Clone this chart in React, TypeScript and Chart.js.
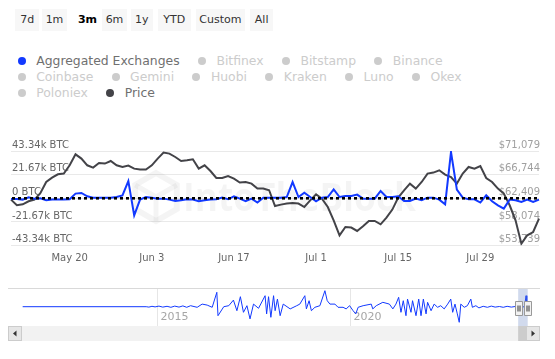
import React, { useEffect, useRef } from 'react';
import { Chart, registerables } from 'chart.js';

Chart.register(...registerables);

const BLUE = '#1239ff';
const PRICE_COLOR = '#434348';
const FONT = '"DejaVu Sans", sans-serif';

// ---- main chart data (daily, starting 2024-05-10) ----
const START_DATE = Date.UTC(2024, 4, 10);
const DAY_MS = 86400000;

const PRICE = [
  62170, 61130, 61310, 61860, 62170, 63330, 65400, 66200, 66810, 66940,
  68460, 70470, 69690, 68460, 68040, 68880, 68770, 69250, 68460, 68150,
  68400, 67850, 67670, 67670, 68460, 69690, 70790, 70600, 69980, 69250,
  69370, 69560, 67850, 68460, 67410, 66130, 66130, 66500, 66020, 65290,
  65400, 65100, 64190, 64190, 63880, 61000, 61250, 61440, 61550, 61440,
  60810, 62040, 63140, 62350, 60810, 58380, 55630, 57150, 57040, 56420,
  57280, 58250, 58250, 57640, 58870, 60340, 62540, 63880, 65100, 64190,
  65400, 66940, 67120, 67540, 66750, 66310, 65100, 66940, 68150, 67850,
  68330, 66130, 65400, 64190, 63270, 61130, 58380, 54100, 55630, 56230,
  58690,
];

const NETFLOW = [
  -600, -600, -1200, 900, -300, 0, -1800, -1200, -1200, -1200,
  -900, 4300, 4900, 1800, 600, 600, 600, 600, 1200, 2700,
  15800, -15600, -1200, 1200, 600, -300, -300, -1200, -2500, -1800,
  -900, -1200, -2700, -1800, -1200, -900, 600, -900, 1800, -300,
  -2700, -300, -3900, 600, 600, 600, 600, 1200, 14900, 1200,
  5200, 1200, -2700, 600, 1200, 8200, 1200, 2100, 2100, 3400,
  -300, -300, -300, 6700, 1200, 1200, 1800, -2500, -2500, -300,
  -1800, 600, 600, -1200, -5500, 42400, 8000, 600, -900, -900,
  -3900, 2700, -2700, -6400, -9400, -1200, -1800, -3400, -1200, -3400,
  -1200,
];

const DATES = PRICE.map((_, i) =>
  new Date(START_DATE + i * DAY_MS).toLocaleDateString('en-US', {
    month: 'short',
    day: 'numeric',
    timeZone: 'UTC',
  })
);

const X_TICK_LABELS = ['May 20', 'Jun 3', 'Jun 17', 'Jul 1', 'Jul 15', 'Jul 29'];
const BTC_TICKS = [-43340, -21670, 0, 21670, 43340];
const USD_TICKS = [53739, 58074, 62409, 66744, 71079];

// ---- navigator data: [decimal year, net flow (k BTC)] ----
const NAV_POINTS: [number, number][] = [
  [2011.52, 0], [2014.72, 0], [2014.79, -2], [2014.87, 2], [2014.95, -1],
  [2015.05, 3], [2015.15, -2], [2015.26, 2], [2015.36, -3], [2015.46, 3],
  [2015.57, -2], [2015.67, 4], [2015.77, -3], [2015.87, 5], [2016.04, -3],
  [2016.17, 13], [2016.3, 8], [2016.43, -3], [2016.55, 72], [2016.58, -45],
  [2016.73, 0], [2016.86, 5], [2016.98, 33], [2017.07, -20], [2017.16, 50],
  [2017.24, -28], [2017.33, 5], [2017.41, -61], [2017.5, 13], [2017.63, -8],
  [2017.8, 55], [2017.84, -36], [2017.89, 50], [2017.95, -53], [2018.02, 55],
  [2018.06, -20], [2018.12, 38], [2018.19, -45], [2018.27, 13], [2018.45, -11],
  [2018.62, 5], [2018.7, 13], [2018.83, 55], [2018.87, -11], [2018.94, 30],
  [2019.0, -20], [2019.09, -3], [2019.22, 5], [2019.35, 80], [2019.41, 30],
  [2019.48, 13], [2019.61, 13], [2019.69, -3], [2019.82, -3], [2019.9, -11],
  [2019.99, 5], [2020.08, -20], [2020.15, -36], [2020.21, -3], [2020.34, 5],
  [2020.55, 13], [2020.59, -11], [2020.68, 5], [2020.85, 22], [2021.02, 13],
  [2021.11, -11], [2021.19, 13], [2021.26, 47], [2021.32, -28], [2021.38, 30],
  [2021.45, -45], [2021.49, 38], [2021.58, -28], [2021.62, 30], [2021.71, -45],
  [2021.78, 38], [2021.84, -45], [2021.9, 38], [2021.97, -36], [2022.01, 22],
  [2022.1, -20], [2022.18, 13], [2022.27, -3], [2022.35, 5], [2022.44, -11],
  [2022.53, 13], [2022.61, 38], [2022.66, -28], [2022.72, 13], [2022.78, -36],
  [2022.83, -78], [2022.87, 13], [2022.96, -3], [2023.04, 5], [2023.13, 38],
  [2023.17, -3], [2023.26, 5], [2023.34, -6], [2023.45, 2], [2023.56, -3],
  [2023.66, 3], [2023.76, -2], [2023.87, 1], [2023.97, -3], [2024.07, 2],
  [2024.18, -2], [2024.28, 1], [2024.36, -3], [2024.45, 2], [2024.52, -2],
  [2024.56, 55], [2024.58, -3], [2024.6, 0],
];
const NAV_YEAR_TICKS = [2015, 2020];
const NAV_X_RANGE = [2011.166, 2024.922];
const NAV_Y_RANGE = [-96.5, 93.5];
const SELECTED_RANGE = [2024.356, 2024.603];

const RANGE_BUTTONS = ['7d', '1m', '3m', '6m', '1y', 'YTD', 'Custom', 'All'];
const SELECTED_BUTTON = '3m';
// layout of range buttons: [left, width]
const BUTTON_BOXES: [number, number][] = [
  [15, 24.3], [42.3, 24.4], [74, 27], [102.3, 24.4], [131, 21.7], [157.7, 33], [195.7, 49.3], [250, 23.3],
];

const LEGEND_ITEMS = [
  { name: 'Aggregated Exchanges', color: BLUE, visible: true },
  { name: 'Bitfinex', color: '#cccccc', visible: false },
  { name: 'Bitstamp', color: '#cccccc', visible: false },
  { name: 'Binance', color: '#cccccc', visible: false },
  { name: 'Coinbase', color: '#cccccc', visible: false },
  { name: 'Gemini', color: '#cccccc', visible: false },
  { name: 'Huobi', color: '#cccccc', visible: false },
  { name: 'Kraken', color: '#cccccc', visible: false },
  { name: 'Luno', color: '#cccccc', visible: false },
  { name: 'Okex', color: '#cccccc', visible: false },
  { name: 'Poloniex', color: '#cccccc', visible: false },
  { name: 'Price', color: PRICE_COLOR, visible: true },
];

const fmtBTC = (v: number) => (v === 0 ? '0 BTC' : `${(v / 1000).toFixed(2)}k BTC`);
const fmtUSD = (v: number) => '$' + Math.round(v).toLocaleString('en-US');

const watermarkPlugin = {
  id: 'watermark',
  beforeDatasetsDraw(chart: any) {
    const { ctx, chartArea: a } = chart;
    ctx.save();
    ctx.strokeStyle = 'rgba(0,0,0,0.045)';
    ctx.fillStyle = 'rgba(0,0,0,0.045)';
    ctx.lineWidth = 6;
    const cx = a.left + 145;
    const cy = a.top + 46;
    const r = 24;
    ctx.beginPath();
    for (let k = 0; k < 6; k++) {
      const ang = (-90 + 60 * k) * (Math.PI / 180);
      const px = cx + r * Math.cos(ang);
      const py = cy + r * Math.sin(ang);
      if (k === 0) ctx.moveTo(px, py);
      else ctx.lineTo(px, py);
    }
    ctx.closePath();
    ctx.stroke();
    ctx.lineWidth = 5;
    ctx.beginPath();
    ctx.moveTo(cx, cy);
    ctx.lineTo(cx, cy + r);
    ctx.moveTo(cx, cy);
    ctx.lineTo(cx - r * 0.87, cy - r * 0.5);
    ctx.moveTo(cx, cy);
    ctx.lineTo(cx + r * 0.87, cy - r * 0.5);
    ctx.stroke();
    ctx.font = 'bold 40px "Open Sans", sans-serif';
    ctx.textBaseline = 'alphabetic';
    ctx.textAlign = 'left';
    ctx.fillText('IntoTheBlock', a.left + 172, a.top + 60, 233);
    ctx.restore();
  },
};

const zeroLinePlugin = {
  id: 'zeroLine',
  afterDatasetsDraw(chart: any) {
    const { ctx, chartArea: a, scales } = chart;
    const y = scales.yL.getPixelForValue(0);
    ctx.save();
    ctx.strokeStyle = '#000000';
    ctx.lineWidth = 2.6;
    ctx.setLineDash([3, 3]);
    ctx.beginPath();
    ctx.moveTo(a.left + 1, y);
    ctx.lineTo(a.right - 1, y);
    ctx.stroke();
    ctx.restore();
  },
};

const navPlugin = {
  id: 'navDecor',
  beforeDatasetsDraw(chart: any) {
    const { ctx, chartArea: a, scales } = chart;
    const x = scales.x;
    ctx.save();
    ctx.strokeStyle = '#e6e6e6';
    ctx.lineWidth = 1;
    ctx.font = `11px ${FONT}`;
    ctx.fillStyle = '#a6a6a6';
    ctx.textAlign = 'left';
    ctx.textBaseline = 'middle';
    NAV_YEAR_TICKS.forEach((yr) => {
      const px = Math.round(x.getPixelForValue(yr)) + 0.5;
      ctx.beginPath();
      ctx.moveTo(px, a.top);
      ctx.lineTo(px, a.bottom);
      ctx.stroke();
      ctx.fillText(String(yr), px + 3, a.bottom - 9);
    });
    ctx.strokeStyle = '#d9d9d9';
    ctx.beginPath();
    ctx.moveTo(a.left - 1, a.top + 0.5);
    ctx.lineTo(a.right, a.top + 0.5);
    ctx.stroke();
    ctx.restore();
  },
  afterDatasetsDraw(chart: any) {
    const { ctx, chartArea: a, scales } = chart;
    const x = scales.x;
    const x0 = x.getPixelForValue(SELECTED_RANGE[0]);
    const x1 = x.getPixelForValue(SELECTED_RANGE[1]);
    ctx.save();
    // mask
    ctx.fillStyle = 'rgba(102,133,194,0.3)';
    ctx.fillRect(x0, a.top + 1, x1 - x0, a.bottom - a.top - 1);
    // scrollbar track
    const sTop = a.bottom;
    const sH = 15;
    const sLeft = a.left - 1;
    const sRight = a.right;
    ctx.fillStyle = '#f2f2f2';
    ctx.fillRect(sLeft, sTop, sRight - sLeft, sH);
    // thumb
    ctx.fillStyle = '#cccccc';
    ctx.fillRect(x0, sTop, x1 - x0, sH);
    // buttons
    const bw = 14;
    [sLeft, sRight - bw].forEach((bx, idx) => {
      ctx.fillStyle = '#e6e6e6';
      ctx.fillRect(bx, sTop, bw, sH);
      ctx.strokeStyle = '#cccccc';
      ctx.lineWidth = 1;
      ctx.strokeRect(bx + 0.5, sTop + 0.5, bw - 1, sH - 1);
      ctx.fillStyle = '#333333';
      const cx = bx + bw / 2;
      const cy = sTop + sH / 2;
      ctx.beginPath();
      if (idx === 0) {
        ctx.moveTo(cx - 2, cy);
        ctx.lineTo(cx + 1.5, cy - 3);
        ctx.lineTo(cx + 1.5, cy + 3);
      } else {
        ctx.moveTo(cx + 2, cy);
        ctx.lineTo(cx - 1.5, cy - 3);
        ctx.lineTo(cx - 1.5, cy + 3);
      }
      ctx.closePath();
      ctx.fill();
    });
    // handles
    const hMid = a.top + (a.bottom - a.top) / 2 + 1;
    [x0, x1].forEach((hx) => {
      const hw = 7;
      const hh = 14;
      const left = Math.round(hx - hw / 2) + 0.5;
      const top = Math.round(hMid - hh / 2) + 0.5;
      ctx.fillStyle = '#f2f2f2';
      ctx.strokeStyle = '#999999';
      ctx.lineWidth = 1;
      ctx.beginPath();
      ctx.rect(left, top, hw, hh);
      ctx.fill();
      ctx.stroke();
      ctx.strokeStyle = '#333333';
      ctx.beginPath();
      ctx.moveTo(left + 2.5, top + 4);
      ctx.lineTo(left + 2.5, top + hh - 4);
      ctx.moveTo(left + 4.5, top + 4);
      ctx.lineTo(left + 4.5, top + hh - 4);
      ctx.stroke();
    });
    ctx.restore();
  },
};

export default function App() {
  const mainRef = useRef<HTMLCanvasElement>(null);
  const navRef = useRef<HTMLCanvasElement>(null);

  useEffect(() => {
    Chart.defaults.font.family = FONT;
    const main = new Chart(mainRef.current as HTMLCanvasElement, {
      type: 'line',
      data: {
        labels: DATES,
        datasets: [
          {
            label: 'Aggregated Exchanges',
            data: NETFLOW,
            yAxisID: 'yL',
            borderColor: BLUE,
            borderWidth: 2,
            pointRadius: 0,
            tension: 0,
          },
          {
            label: 'Price',
            data: PRICE,
            yAxisID: 'yR',
            borderColor: PRICE_COLOR,
            borderWidth: 2,
            pointRadius: 0,
            tension: 0,
          },
        ],
      },
      options: {
        animation: false,
        responsive: false,
        maintainAspectRatio: false,
        layout: { padding: { left: 9, right: 14, top: 21, bottom: 8.4 } },
        plugins: { legend: { display: false }, tooltip: { enabled: false } },
        scales: {
          x: {
            type: 'category',
            offset: false,
            grid: { display: false, drawTicks: false },
            border: { display: false },
            ticks: {
              autoSkip: false,
              maxRotation: 0,
              minRotation: 0,
              padding: 7,
              color: '#666666',
              font: { size: 10 },
              callback: (_v: any, i: number) => (X_TICK_LABELS.includes(DATES[i]) ? DATES[i] : ''),
            },
          },
          yL: {
            position: 'left',
            min: BTC_TICKS[0],
            max: BTC_TICKS[BTC_TICKS.length - 1],
            afterBuildTicks: (axis: any) => {
              axis.ticks = BTC_TICKS.map((value) => ({ value }));
            },
            grid: { color: '#e9e9e9', drawTicks: false, lineWidth: 1 },
            border: { display: false },
            ticks: {
              mirror: true,
              padding: 1,
              labelOffset: -6,
              color: '#666666',
              font: { size: 10 },
              callback: (v: any) => fmtBTC(Number(v)),
            },
          },
          yR: {
            position: 'right',
            min: USD_TICKS[0],
            max: USD_TICKS[USD_TICKS.length - 1],
            afterBuildTicks: (axis: any) => {
              axis.ticks = USD_TICKS.map((value) => ({ value }));
            },
            grid: { display: false, drawTicks: false },
            border: { display: false },
            ticks: {
              mirror: true,
              padding: 1,
              labelOffset: -6,
              color: '#a0a0a0',
              font: { size: 10 },
              callback: (v: any) => fmtUSD(Number(v)),
            },
          },
        },
      } as any,
      plugins: [watermarkPlugin, zeroLinePlugin],
    });

    const nav = new Chart(navRef.current as HTMLCanvasElement, {
      type: 'line',
      data: {
        datasets: [
          {
            data: NAV_POINTS.map(([x, y]) => ({ x, y })),
            borderColor: BLUE,
            borderWidth: 1,
            pointRadius: 0,
            tension: 0,
          },
        ],
      },
      options: {
        animation: false,
        responsive: false,
        maintainAspectRatio: false,
        layout: { padding: { left: 9, right: 15, top: 4, bottom: 20 } },
        plugins: { legend: { display: false }, tooltip: { enabled: false } },
        scales: {
          x: { type: 'linear', display: false, min: NAV_X_RANGE[0], max: NAV_X_RANGE[1] },
          y: { type: 'linear', display: false, min: NAV_Y_RANGE[0], max: NAV_Y_RANGE[1] },
        },
      } as any,
      plugins: [navPlugin],
    });

    return () => {
      main.destroy();
      nav.destroy();
    };
  }, []);

  return (
    <div
      style={{
        position: 'absolute',
        left: 0,
        top: 0,
        width: 555,
        height: 359,
        background: '#ffffff',
        fontFamily: FONT,
        overflow: 'hidden',
      }}
    >
      {RANGE_BUTTONS.map((b, i) => {
        const sel = b === SELECTED_BUTTON;
        const [left, width] = BUTTON_BOXES[i];
        return (
          <div
            key={b}
            style={{
              position: 'absolute',
              left,
              top: 9,
              width,
              height: 22,
              lineHeight: '22px',
              textAlign: 'center',
              fontSize: 11,
              color: sel ? '#000000' : '#333333',
              fontWeight: sel ? 'bold' : 'normal',
              background: sel ? 'transparent' : '#f7f7f7',
              whiteSpace: 'nowrap',
            }}
          >
            {b}
          </div>
        );
      })}
      <div
        style={{
          position: 'absolute',
          left: 17.7,
          top: 53,
          width: 500,
          display: 'flex',
          flexWrap: 'wrap',
          columnGap: 18.3,
          rowGap: 0,
          fontSize: 12.4,
          lineHeight: '16px',
        }}
      >
        {LEGEND_ITEMS.map((it) => (
          <div key={it.name} style={{ display: 'flex', alignItems: 'center', height: 16, whiteSpace: 'nowrap' }}>
            <span
              style={{
                display: 'inline-block',
                width: 8,
                height: 8,
                borderRadius: '50%',
                background: it.color,
                marginRight: 10.5,
              }}
            />
            <span style={{ color: it.visible ? '#707070' : '#cccccc' }}>{it.name}</span>
          </div>
        ))}
      </div>
      <canvas
        ref={mainRef}
        width={555}
        height={150}
        style={{ position: 'absolute', left: 0, top: 130, width: 555, height: 150 }}
      />
      <canvas
        ref={navRef}
        width={555}
        height={62}
        style={{ position: 'absolute', left: 0, top: 284, width: 555, height: 62 }}
      />
    </div>
  );
}
